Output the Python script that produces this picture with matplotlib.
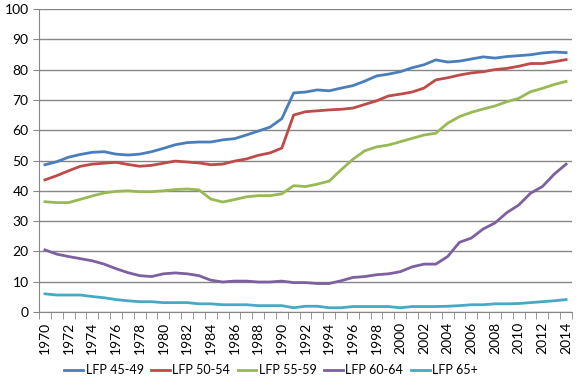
import matplotlib.pyplot as plt
import numpy as np

years = list(range(1970, 2015))

lfp_45_49 = [48.6, 49.6, 51.1, 52.0, 52.7, 52.9, 52.1, 51.8, 52.1, 52.9,
             54.0, 55.2, 55.9, 56.1, 56.1, 56.8, 57.2, 58.4, 59.7, 61.0,
             63.8, 72.3, 72.6, 73.3, 73.0, 73.9, 74.7, 76.2, 77.9, 78.5,
             79.3, 80.6, 81.6, 83.2, 82.5, 82.8, 83.5, 84.2, 83.8, 84.3,
             84.6, 84.9, 85.5, 85.8, 85.6]
lfp_50_54 = [43.6, 45.0, 46.6, 48.1, 48.8, 49.1, 49.4, 48.7, 48.1, 48.4,
             49.1, 49.8, 49.5, 49.2, 48.6, 48.8, 49.8, 50.5, 51.7, 52.5,
             54.1, 65.0, 66.1, 66.4, 66.7, 66.9, 67.3, 68.5, 69.7, 71.3,
             71.9, 72.6, 73.9, 76.6, 77.3, 78.2, 78.9, 79.3, 80.0, 80.4,
             81.1, 82.0, 82.0, 82.6, 83.3]
lfp_55_59 = [36.4, 36.1, 36.1, 37.2, 38.3, 39.3, 39.8, 40.0, 39.7, 39.7,
             40.0, 40.4, 40.6, 40.3, 37.3, 36.3, 37.1, 38.0, 38.4, 38.4,
             39.0, 41.7, 41.4, 42.2, 43.2, 46.9, 50.4, 53.2, 54.5, 55.1,
             56.2, 57.3, 58.4, 59.0, 62.3, 64.5, 65.9, 67.0, 68.0, 69.4,
             70.5, 72.7, 73.8, 75.1, 76.1]
lfp_60_64 = [20.5, 19.1, 18.3, 17.6, 16.9, 15.8, 14.3, 13.0, 12.0, 11.7,
             12.6, 12.9, 12.6, 12.0, 10.5, 9.9, 10.2, 10.2, 9.9, 9.9,
             10.2, 9.7, 9.7, 9.4, 9.4, 10.3, 11.4, 11.7, 12.3, 12.6,
             13.3, 14.9, 15.8, 15.8, 18.3, 23.0, 24.4, 27.4, 29.4, 32.8,
             35.3, 39.2, 41.4, 45.5, 48.8]
lfp_65_plus = [6.0, 5.6, 5.6, 5.6, 5.1, 4.7, 4.1, 3.7, 3.4, 3.4,
               3.1, 3.1, 3.1, 2.7, 2.7, 2.4, 2.4, 2.4, 2.1, 2.1,
               2.1, 1.4, 1.9, 1.9, 1.4, 1.4, 1.8, 1.8, 1.8, 1.8,
               1.4, 1.8, 1.8, 1.8, 1.9, 2.1, 2.4, 2.4, 2.7, 2.7,
               2.8, 3.1, 3.4, 3.7, 4.1]

series = [
    ("LFP 45-49", lfp_45_49, "#4a7ebb"),
    ("LFP 50-54", lfp_50_54, "#be4b48"),
    ("LFP 55-59", lfp_55_59, "#98b954"),
    ("LFP 60-64", lfp_60_64, "#7d60a0"),
    ("LFP 65+", lfp_65_plus, "#46aac5"),
]

plt.rcParams['font.family'] = ['Lato', 'DejaVu Sans']
fig = plt.figure(figsize=(5.78, 3.77), dpi=100)
ax = fig.add_axes([39 / 578, 1 - 312 / 377, 533 / 578, 303 / 377])

for name, vals, col in series:
    ax.plot(years, vals, color=col, lw=2, label=name, solid_joinstyle='round')

ax.set_xlim(1969.5, 2014.5)
ax.set_ylim(0, 100)
ax.set_yticks(range(0, 101, 10))
ax.yaxis.grid(True, color='#868686', lw=1)
ax.set_axisbelow(True)

ax.set_xticks(years[::2])
ax.set_xticklabels([str(y) for y in years[::2]], rotation=90)
ax.set_xticks(np.arange(1969.5, 2015, 1), minor=True)
ax.tick_params(axis='x', which='major', length=0, pad=7, labelsize=10)
ax.tick_params(axis='x', which='minor', length=5, color='#868686')
ax.tick_params(axis='y', length=4, color='#868686', labelsize=10)

for s in ['top', 'right']:
    ax.spines[s].set_visible(False)
for s in ['left', 'bottom']:
    ax.spines[s].set_color('#868686')

fig.legend(loc='center', bbox_to_anchor=(0.469, 1 - 370 / 377), ncol=5,
           frameon=False, fontsize=9, handlelength=1.5, handletextpad=0.2,
           columnspacing=0.6, borderpad=0)

fig.savefig('out.png', dpi=100)
